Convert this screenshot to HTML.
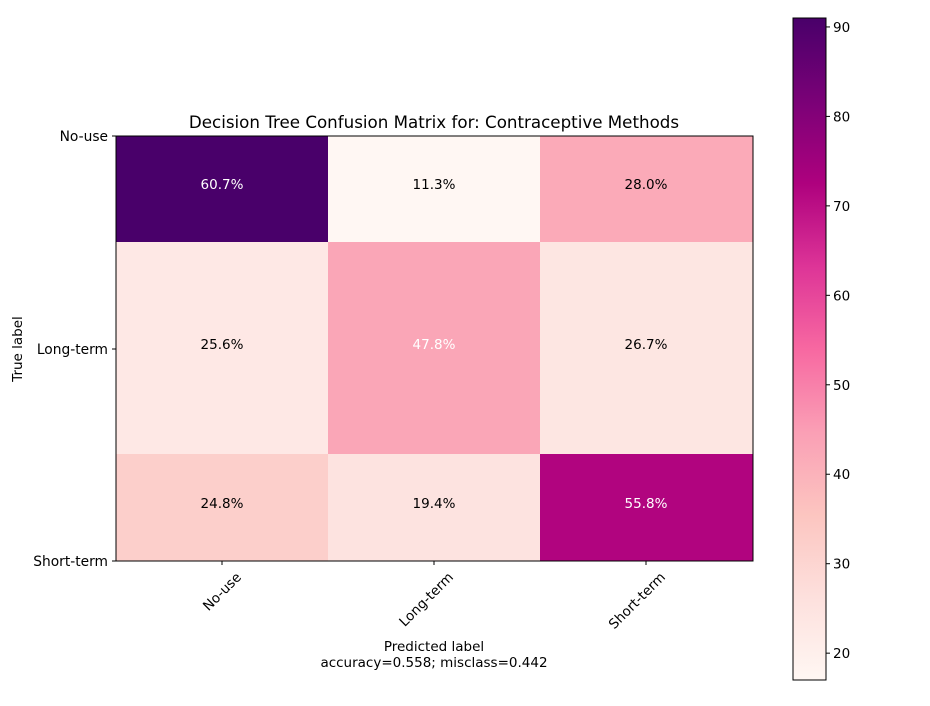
<!DOCTYPE html>
<html><head><meta charset="utf-8"><style>body{margin:0;background:#fff}svg{display:block;font-family:"DejaVu Sans","Liberation Sans",sans-serif}</style></head>
<body>
<svg id="chart" width="930" height="706"></svg>
<script>
const classes = ["No-use","Long-term","Short-term"];
const counts = [[91,17,42],[23,43,24],[32,25,72]];
const percentVals = [[60.7,11.3,28.0],[25.6,47.8,26.7],[24.8,19.4,55.8]];
const cbTicks = [20,30,40,50,60,70,80,90];
const vmin = 17, vmax = 91;
const stops = ["#fff7f3","#fde0dd","#fcc5c0","#fa9fb5","#f768a1","#dd3497","#ae017e","#7a0177","#49006a"];
function cmap(v){let t=Math.max(0,Math.min(1,(v-vmin)/(vmax-vmin)))*(stops.length-1);let i=Math.min(stops.length-2,Math.floor(t)),f=t-i;
const a=stops[i],b=stops[i+1];const p=(s,k)=>parseInt(s.substr(1+2*k,2),16);
return "rgb("+[0,1,2].map(k=>Math.round(p(a,k)+(p(b,k)-p(a,k))*f)).join(",")+")";}
const NS="http://www.w3.org/2000/svg", svg=document.getElementById("chart");
function el(tag,attrs,txt){const e=document.createElementNS(NS,tag);for(const k in attrs)e.setAttribute(k,attrs[k]);if(txt!==undefined)e.textContent=txt;svg.appendChild(e);return e;}
const colEdges=[116,328,540,753], rowEdges=[136,242,454,561];
const xTickPos=[222,434,646], yTickPos=[136,349,561];
for(let r=0;r<3;r++)for(let c=0;c<3;c++){
 const rc=el("rect",{x:colEdges[c],y:rowEdges[r],width:colEdges[c+1]-colEdges[c],height:rowEdges[r+1]-rowEdges[r],fill:cmap(counts[r][c])});
 
 
}
const pmax=Math.max(...percentVals.flat()), thresh=pmax/2;
const textY=[189,349,508];
for(let r=0;r<3;r++)for(let c=0;c<3;c++){
 const t=el("text",{x:xTickPos[c],y:textY[r],"text-anchor":"middle","font-size":13.5,fill:percentVals[r][c]>thresh?"#fff":"#000"},percentVals[r][c].toFixed(1)+"%");
 
 
}
const frame=el("rect",{x:116,y:136,width:637,height:425,fill:"none",stroke:"#000","stroke-width":1});


for(let i=0;i<3;i++){
 el("line",{x1:xTickPos[i],x2:xTickPos[i],y1:561,y2:565,stroke:"#000"});
 const xt=el("text",{x:0,y:0,"text-anchor":"end","font-size":13.5,transform:`translate(${xTickPos[i]+20},${578}) rotate(-45)`},classes[i]);
 
 
 el("line",{x1:112,x2:116,y1:yTickPos[i],y2:yTickPos[i],stroke:"#000"});
 const yt=el("text",{x:108,y:yTickPos[i]+5,"text-anchor":"end","font-size":13.8},classes[i]);
 
 
}
const title=el("text",{x:434,y:128,"text-anchor":"middle","font-size":16.7},"Decision Tree Confusion Matrix for: Contraceptive Methods");


const xl=el("text",{x:434,y:651,"text-anchor":"middle","font-size":13.5},"Predicted label");


const xl2=el("text",{x:434,y:667,"text-anchor":"middle","font-size":13.5},"accuracy=0.558; misclass=0.442");


const yl=el("text",{x:0,y:0,"text-anchor":"middle","font-size":13.5,transform:"translate(22,349) rotate(-90)"},"True label");


const cbX=793,cbW=33,cbTop=18,cbBot=680;
const cy=v=>cbBot-(v-vmin)/(vmax-vmin)*(cbBot-cbTop);
const defs=el("defs",{});const g=document.createElementNS(NS,"linearGradient");
g.setAttribute("id","cbg");g.setAttribute("x1","0");g.setAttribute("y1","1");g.setAttribute("x2","0");g.setAttribute("y2","0");
stops.forEach((s,i)=>{const st=document.createElementNS(NS,"stop");st.setAttribute("offset",i/(stops.length-1));st.setAttribute("stop-color",s);g.appendChild(st);});
defs.appendChild(g);
const cb=el("rect",{x:cbX,y:cbTop,width:cbW,height:cbBot-cbTop,fill:"url(#cbg)",stroke:"#000","stroke-width":1});


cbTicks.forEach(v=>{
 el("line",{x1:cbX+cbW,x2:cbX+cbW+4,y1:cy(v),y2:cy(v),stroke:"#000"});
 const t=el("text",{x:cbX+cbW+7,y:cy(v)+5,"font-size":13.5},String(v));
 
 
});
</script>
</body></html>
